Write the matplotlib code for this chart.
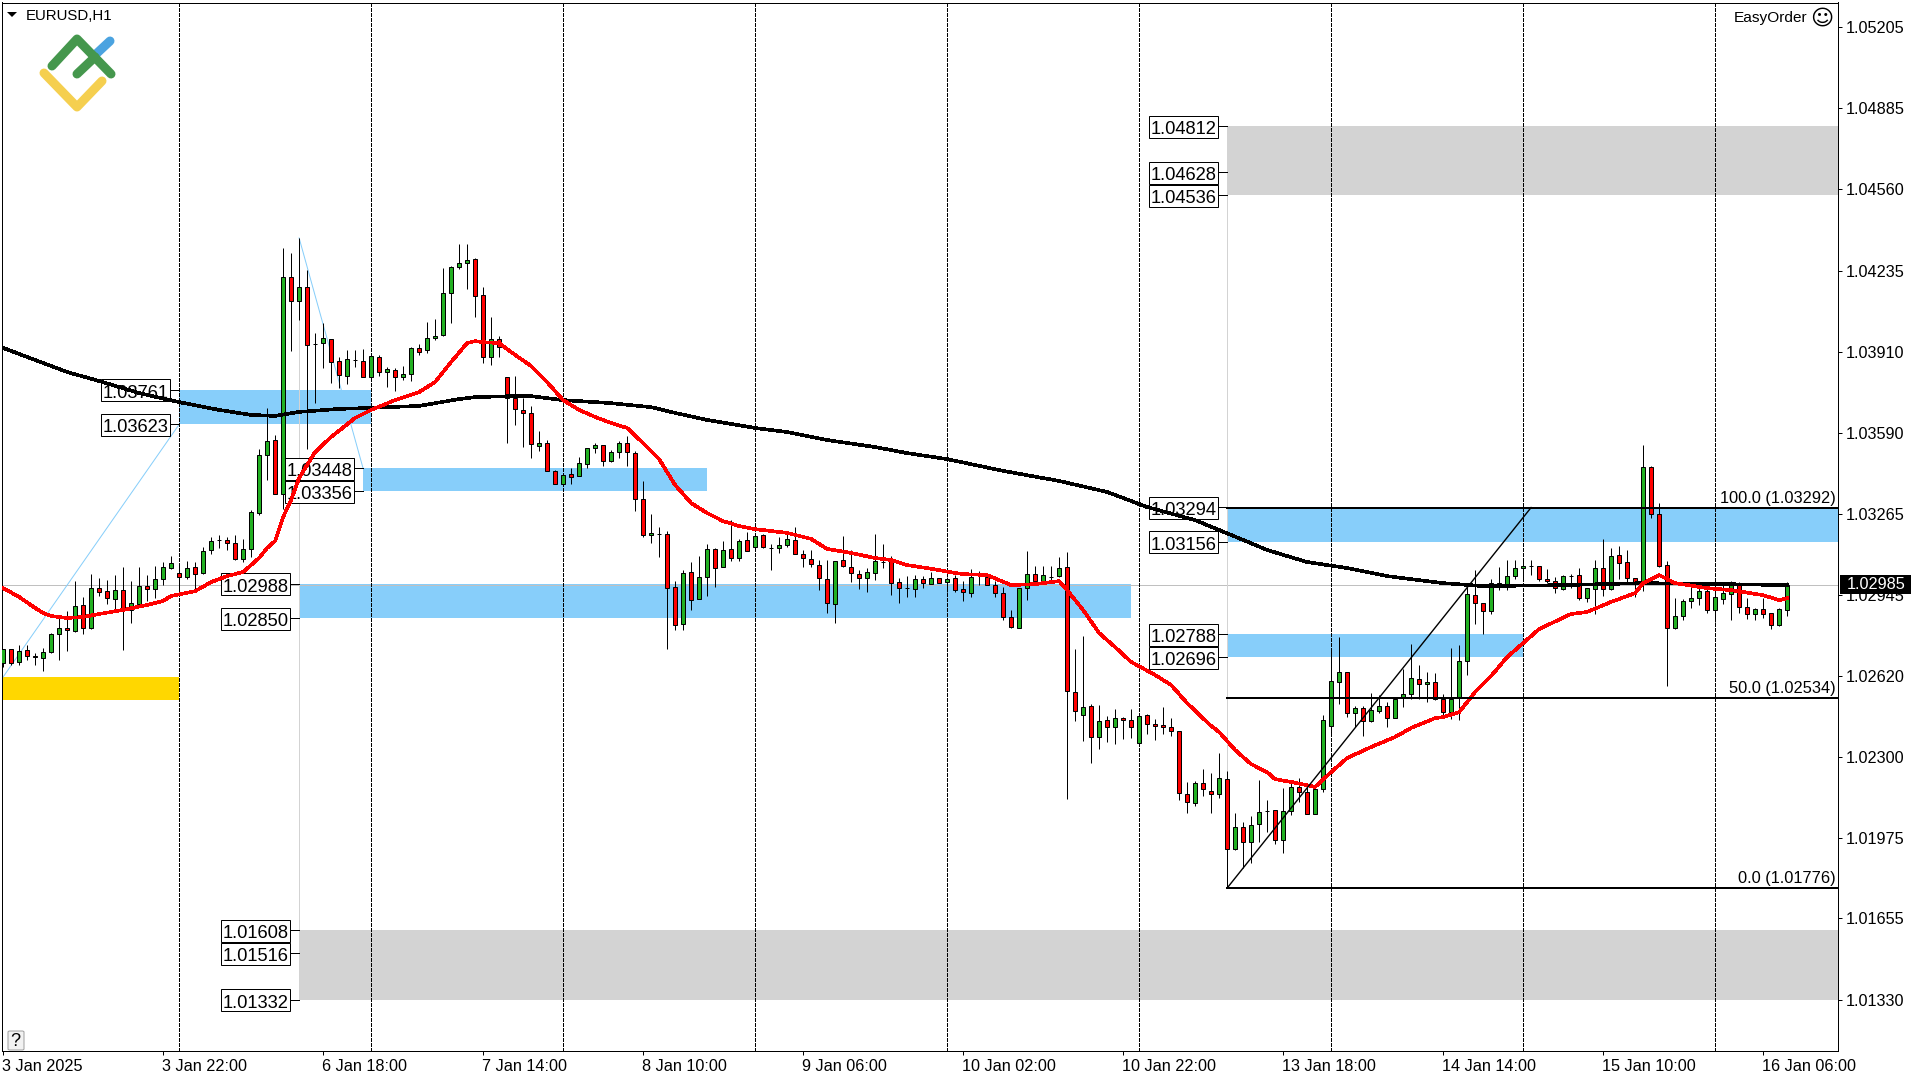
import matplotlib
matplotlib.use("Agg")
import matplotlib.pyplot as plt
import numpy as np
from matplotlib.lines import Line2D
from matplotlib.patches import Rectangle, FancyBboxPatch
from matplotlib.transforms import IdentityTransform, ScaledTranslation

plt.rcParams["font.family"] = ["Liberation Sans", "DejaVu Sans"]

# candle prices, written as points above 1.00000 (2985 -> 1.02985)
open_pts = [
    2674, 2727, 2677, 2723, 2699, 2694, 2715, 2787, 2811, 2802,
    2903, 2814, 2970, 2958, 2927, 2962, 2884, 2907, 2978, 2966,
    3006, 3050, 3030, 3014, 3054, 3030, 3122, 3162, 3162, 3150,
    3086, 3126, 3270, 3501, 3561, 3346, 4210, 4115, 4171, 3944,
    3947, 3963, 3876, 3816, 3880, 3876, 3812, 3892, 3832, 3840,
    3812, 3824, 3928, 3920, 3967, 3979, 4147, 4250, 4266, 4282,
    4139, 3892, 3963, 3812, 3728, 3681, 3669, 3537, 3549, 3438,
    3386, 3426, 3418, 3465, 3529, 3541, 3477, 3513, 3549, 3509,
    3326, 3183, 3187, 3187, 2975, 2828, 3035, 2928, 3015, 3127,
    3055, 3127, 3091, 3163, 3135, 3183, 3131, 3131, 3143, 3163,
    3107, 3087, 3063, 3007, 2908, 3083, 3055, 3027, 3011, 3031,
    3075, 3079, 2995, 2971, 2967, 3007, 2987, 3011, 2995, 3011,
    2967, 2951, 3023, 3015, 2983, 2951, 2856, 2812, 2971, 3027,
    2999, 3015, 3019, 3055, 2557, 2465, 2501, 2378, 2446, 2418,
    2453, 2446, 2354, 2465, 2430, 2426, 2418, 2402, 2151, 2115,
    2195, 2163, 2151, 2210, 1932, 2019, 1959, 2031, 2083, 2087,
    1967, 2083, 2179, 2159, 2071, 2171, 2422, 2597, 2637, 2473,
    2493, 2442, 2481, 2501, 2453, 2533, 2549, 2609, 2589, 2597,
    2529, 2477, 2533, 2681, 2943, 2912, 2880, 2991, 2987, 3019,
    3051, 3059, 3059, 3007, 2999, 2967, 3019, 3023, 2932, 2967,
    3051, 2967, 3103, 3075, 3011, 2991, 3453, 3266, 3063, 2812,
    2860, 2920, 2932, 2959, 2884, 2928, 2947, 2991, 2896, 2868,
    2888, 2872, 2824, 2884,
]
high_pts = [
    2727, 2727, 2743, 2746, 2714, 2731, 2791, 2850, 2880, 2998,
    2935, 3026, 3010, 3002, 3022, 3054, 2998, 3054, 3022, 3058,
    3074, 3098, 3066, 3078, 3074, 3134, 3174, 3182, 3174, 3182,
    3166, 3281, 3525, 3689, 3581, 4326, 4306, 4366, 4238, 3987,
    4027, 3963, 3892, 3920, 3920, 3924, 3908, 3900, 3852, 3848,
    3856, 3932, 3944, 4031, 4043, 4246, 4254, 4342, 4342, 4286,
    4171, 4051, 3975, 3812, 3816, 3728, 3697, 3597, 3561, 3442,
    3422, 3450, 3493, 3529, 3549, 3541, 3521, 3557, 3577, 3517,
    3398, 3266, 3214, 3199, 2999, 3043, 3075, 3099, 3147, 3131,
    3159, 3242, 3167, 3195, 3183, 3187, 3147, 3175, 3199, 3214,
    3123, 3123, 3083, 3083, 3079, 3179, 3123, 3043, 3051, 3187,
    3147, 3099, 3011, 3019, 3023, 3019, 3035, 3011, 3015, 3023,
    2999, 3047, 3039, 3031, 2999, 2975, 2884, 2971, 3119, 3059,
    3059, 3059, 3095, 3115, 2728, 2780, 2509, 2505, 2461, 2489,
    2457, 2489, 2461, 2469, 2450, 2497, 2453, 2402, 2199, 2203,
    2250, 2234, 2314, 2242, 2075, 2039, 2063, 2206, 2127, 2087,
    2175, 2195, 2214, 2195, 2171, 2465, 2732, 2776, 2637, 2501,
    2501, 2553, 2545, 2517, 2529, 2649, 2748, 2665, 2637, 2633,
    2549, 2732, 2744, 2991, 3043, 2912, 3007, 3055, 3083, 3083,
    3083, 3083, 3059, 3047, 3015, 3023, 3027, 3051, 2971, 3083,
    3167, 3131, 3139, 3123, 3011, 3541, 3457, 3310, 3079, 2932,
    2928, 2983, 2971, 2967, 2983, 2983, 2999, 2995, 2932, 2892,
    2932, 2872, 2892, 2995,
]
low_pts = [
    2658, 2664, 2666, 2685, 2666, 2642, 2714, 2685, 2721, 2798,
    2788, 2810, 2941, 2908, 2884, 2725, 2832, 2899, 2920, 2932,
    2985, 3046, 2943, 3009, 2954, 3026, 3106, 3130, 3122, 3082,
    3074, 3094, 3262, 3402, 3346, 3286, 3916, 4039, 3525, 3708,
    3848, 3788, 3768, 3784, 3852, 3812, 3812, 3816, 3772, 3756,
    3800, 3796, 3900, 3908, 3959, 3975, 4027, 4242, 4163, 4051,
    3868, 3860, 3892, 3549, 3621, 3533, 3489, 3517, 3438, 3386,
    3386, 3386, 3418, 3449, 3509, 3457, 3473, 3489, 3457, 3278,
    3175, 3151, 3095, 2728, 2804, 2804, 2884, 2928, 2940, 2975,
    3055, 3079, 3079, 3119, 3119, 3131, 3043, 3111, 3135, 3107,
    3055, 3055, 2963, 2872, 2832, 3055, 2995, 2967, 2956, 3003,
    3051, 2944, 2912, 2936, 2936, 2971, 2987, 2991, 2956, 2956,
    2920, 2936, 2983, 2983, 2936, 2844, 2812, 2812, 2924, 2995,
    2995, 2991, 3015, 2131, 2442, 2362, 2274, 2330, 2358, 2350,
    2370, 2374, 2354, 2390, 2366, 2390, 2382, 2127, 2075, 2103,
    2143, 2075, 2135, 1776, 1928, 1856, 1876, 1959, 2000, 1952,
    1916, 2067, 2119, 2071, 2071, 2159, 2382, 2509, 2457, 2418,
    2382, 2438, 2473, 2418, 2453, 2497, 2529, 2529, 2517, 2525,
    2453, 2449, 2445, 2625, 2828, 2788, 2868, 2963, 2963, 3007,
    3007, 3023, 2999, 2991, 2951, 2963, 2971, 2924, 2916, 2868,
    2940, 2963, 3007, 2991, 2936, 2960, 3250, 3055, 2581, 2808,
    2844, 2892, 2904, 2872, 2836, 2908, 2844, 2872, 2848, 2844,
    2852, 2808, 2820, 2860,
]
close_pts = [
    2727, 2672, 2719, 2702, 2698, 2715, 2787, 2811, 2803, 2899,
    2814, 2970, 2954, 2931, 2962, 2884, 2911, 2978, 2966, 3006,
    3054, 3070, 3014, 3050, 3026, 3118, 3158, 3162, 3150, 3086,
    3126, 3273, 3501, 3557, 3346, 4210, 4115, 4171, 3940, 3943,
    3967, 3872, 3820, 3884, 3880, 3812, 3896, 3832, 3844, 3812,
    3824, 3928, 3912, 3967, 3975, 4147, 4250, 4266, 4278, 4135,
    3892, 3963, 3931, 3728, 3685, 3669, 3545, 3549, 3438, 3386,
    3422, 3414, 3469, 3529, 3541, 3477, 3513, 3549, 3513, 3326,
    3183, 3191, 3187, 2971, 2824, 3031, 2924, 3015, 3127, 3051,
    3123, 3091, 3159, 3119, 3179, 3135, 3131, 3143, 3167, 3107,
    3091, 3067, 3011, 2912, 3079, 3059, 3031, 3011, 3035, 3079,
    3075, 2991, 2971, 2971, 3007, 2991, 3011, 2991, 3007, 2963,
    2956, 3015, 3023, 2983, 2951, 2856, 2816, 2971, 3027, 2999,
    3023, 3015, 3051, 2561, 2481, 2497, 2378, 2442, 2418, 2453,
    2446, 2418, 2461, 2430, 2422, 2418, 2402, 2155, 2119, 2195,
    2171, 2151, 2214, 1932, 2019, 1959, 2027, 2079, 2083, 1967,
    2083, 2179, 2159, 2071, 2171, 2446, 2601, 2637, 2473, 2493,
    2442, 2485, 2501, 2453, 2529, 2549, 2613, 2589, 2597, 2529,
    2477, 2529, 2681, 2947, 2912, 2880, 2991, 2983, 3019, 3051,
    3059, 3059, 3007, 2999, 2971, 3019, 3019, 2932, 2971, 3051,
    2967, 3099, 3071, 3011, 2991, 3453, 3266, 3059, 2812, 2860,
    2920, 2932, 2959, 2884, 2936, 2951, 2991, 2896, 2868, 2888,
    2868, 2824, 2888, 2985,
]

# moving averages, read at the bars listed
ma_fast_bars = [
    0, 2, 4, 5, 6, 8, 10, 12, 15, 18, 20, 21, 24, 26, 28, 30, 32, 33, 34, 35,
    36, 37, 39, 41, 44, 46, 49, 52, 54, 56, 58, 59, 60, 62, 64, 66, 68, 70, 72,
    74, 76, 78, 80, 82, 84, 86, 88, 90, 92, 94, 98, 101, 103, 106, 109, 111,
    113, 117, 119, 120, 123, 126, 129, 132, 133, 135, 137, 139, 141, 144, 146,
    148, 151, 152, 154, 156, 158, 159, 161, 164, 166, 168, 171, 174, 176, 179,
    180, 182, 184, 186, 188, 190, 192, 196, 198, 201, 204, 205, 207, 209, 213,
    216, 220, 222, 223,
]
ma_fast_pts = [
    2971, 2936, 2892, 2872, 2860, 2852, 2856, 2868, 2884, 2904, 2920, 2940,
    2959, 2995, 3019, 3035, 3091, 3131, 3159, 3254,
    3322, 3410, 3513, 3573, 3649, 3681, 3720, 3752, 3792, 3872, 3947, 3955,
    3951, 3947, 3900, 3856, 3792, 3720, 3681,
    3653, 3629, 3609, 3549, 3485, 3382, 3310, 3270, 3238, 3218, 3206, 3191,
    3167, 3127, 3111, 3091, 3083,
    3063, 3043, 3031, 3027, 3023, 2983, 2987, 2999, 2963, 2884, 2792, 2736,
    2677, 2625, 2585,
    2513, 2422, 2398, 2326, 2270, 2238, 2210, 2199, 2179, 2238, 2294, 2338,
    2378, 2414, 2453,
    2457, 2477, 2557, 2621, 2696, 2752, 2808, 2868, 2876, 2916, 2951, 2991,
    3023, 2991, 2971,
    2963, 2943, 2923, 2931,
]
ma_slow_bars = [
    0, 4, 8, 12, 17, 22, 27, 31, 34, 37, 42, 46, 52, 57, 59, 64, 66, 70, 76, 81,
    84, 88, 94, 98, 103, 109, 113, 118, 125, 132, 138, 143, 149, 155, 158, 163,
    168, 173, 179, 180, 185, 195, 205, 215, 223,
]
ma_slow_pts = [
    3928, 3880, 3832, 3796, 3748, 3712, 3681, 3661, 3657, 3673, 3685, 3689,
    3697, 3724, 3732, 3736, 3736, 3720, 3708, 3692,
    3669, 3641, 3609, 3593, 3561, 3533, 3509, 3485, 3438, 3398, 3354, 3294,
    3242, 3163, 3123, 3075,
    3051, 3019, 2995, 2991, 2979, 2983, 2991, 2987, 2983,
]

# supply / demand zones: first bar, last bar, lower price, upper price
blue_start = [22, 45, 37, 153, 153]
blue_end = [46, 88, 141, 230, 190]
blue_low = [1.03623, 1.03356, 1.02850, 1.03156, 1.02696]
blue_high = [1.03761, 1.03448, 1.02988, 1.03294, 1.02788]
gray_start = [153, 37]
gray_end = [230, 230]
gray_low = [1.04536, 1.01332]
gray_high = [1.04812, 1.01608]
gold_end = 22
gold_low = 1.02525
gold_high = 1.02617

# boxed price labels and the bar each one points at
label_prices = [1.03761, 1.03623, 1.03448, 1.03356, 1.02988, 1.02850, 1.01608,
                1.01516, 1.01332, 1.04812, 1.04628, 1.04536, 1.03294, 1.03156,
                1.02788, 1.02696]
label_bars = [22, 22, 45, 45, 37, 37, 37, 37, 37, 153, 153, 153, 153, 153, 153, 153]

fib_levels = [1.03292, 1.02534, 1.01776]
fib_names = ["100.0 (1.03292)", "50.0 (1.02534)", "0.0 (1.01776)"]
fib_start = 153
fib_diag_end = 191

session_bars = [22, 46, 70, 94, 118, 142, 166, 190, 214]
time_bars = [0, 20, 40, 60, 80, 100, 120, 140, 160, 180, 200, 220]
time_labels = ["3 Jan 2025", "3 Jan 22:00", "6 Jan 18:00", "7 Jan 14:00",
               "8 Jan 10:00", "9 Jan 06:00", "10 Jan 02:00", "10 Jan 22:00",
               "13 Jan 18:00", "14 Jan 14:00", "15 Jan 10:00", "16 Jan 06:00"]
price_ticks = [1.05205, 1.04885, 1.04560, 1.04235, 1.03910, 1.03590, 1.03265,
               1.02945, 1.02620, 1.02300, 1.01975, 1.01655, 1.01330]
last_price = 1.02985

GREEN = "#22B022"
RED = "#FF0000"
BLUE = "#87CEFA"
GRAY = "#D3D3D3"
GOLD = "#FFD700"
PX = 0.72  # one pixel in points at dpi 100


def price(points):
    return 1 + np.asarray(points) / 100000


fig = plt.figure(figsize=(19.2, 10.8), dpi=100, facecolor="white")
ax = fig.add_axes([2 / 1920, 1 - 1051 / 1080, 1836 / 1920, 1048.5 / 1080])
ax.set_xlim(-0.1375, 229.3625)
ax.set_ylim(1.01127, 1.05304)

for s in ax.spines.values():
    s.set_linewidth(PX)

# zones
for a, b, lo, hi in zip(blue_start, blue_end, blue_low, blue_high):
    ax.fill_between([a, b], lo, hi, color=BLUE, lw=0, zorder=1)
for a, b, lo, hi in zip(gray_start, gray_end, gray_low, gray_high):
    ax.fill_between([a, b], lo, hi, color=GRAY, lw=0, zorder=1)
ax.fill_between([-1, gold_end], gold_low, gold_high, color=GOLD, lw=0, zorder=1)

# bid line, period separators, zone guides
ax.axhline(last_price, color="#C0C0C0", lw=PX, zorder=1.5)
for b in session_bars:
    ax.axvline(b, color="black", lw=PX, ls=(0, (3, 2)), zorder=2, antialiased=False)
ax.plot([37, 37], [1.01332, price(4366)], color=GRAY, lw=PX, zorder=1.6)
ax.plot([153, 153], [1.01776, 1.04812], color=GRAY, lw=PX, zorder=1.6)
ax.plot([0, 22], [gold_high, 1.03623], color=BLUE, lw=PX, zorder=1.6)
ax.plot([37, 45], [price(4366), 1.03448], color=BLUE, lw=PX, zorder=1.6)

# boxed labels, sized in pixels like the terminal draws them
pixels = IdentityTransform()
for p, b in zip(label_prices, label_bars):
    x0, y0 = ax.transData.transform((b, p))
    ax.plot([x0 - 9, x0], [y0, y0], color="black", lw=PX, transform=pixels, zorder=3)
    ax.add_patch(Rectangle((x0 - 78, y0 - 11.5), 69, 22, transform=pixels, fc="white",
                           ec="black", lw=PX, zorder=3, clip_on=False))
    ax.text(x0 - 43.5, y0 - 8, f"{p:.5f}", transform=pixels, ha="center", va="baseline",
            fontsize=13.2, zorder=3)

# candles
bars = np.arange(len(open_pts))
opens, highs, lows, closes = map(price, (open_pts, high_pts, low_pts, close_pts))
colors = [GREEN if c > o else RED if c < o else "black" for o, c in zip(opens, closes)]
ax.vlines(bars, lows, highs, color="black", lw=PX, zorder=4)
ax.bar(bars, closes - opens, bottom=opens, width=0.5, color=colors,
       edgecolor="black", linewidth=PX, zorder=5)

# moving averages and fibonacci grid
ax.plot(ma_slow_bars, price(ma_slow_pts), color="black", lw=2.6 * PX, zorder=6, antialiased=False)
ax.plot(ma_fast_bars, price(ma_fast_pts), color=RED, lw=2.6 * PX, zorder=7, antialiased=False)
for level, name in zip(fib_levels, fib_names):
    ax.plot([fib_start, 230], [level, level], color="black", lw=2 * PX, zorder=8)
    ax.annotate(name, xy=(1, level), xycoords=("axes fraction", "data"),
                xytext=(-1.5, 1.3), textcoords="offset points", ha="right", va="bottom",
                fontsize=11.8, zorder=9)
ax.plot([fib_start, fib_diag_end], [fib_levels[2], fib_levels[0]], color="black",
        lw=1.4 * PX, zorder=8)

# axes
ax.yaxis.tick_right()
ax.set_yticks(price_ticks)
ax.set_yticklabels([f"{t:.5f}" for t in price_ticks])
ax.tick_params(axis="y", length=4 * PX, width=PX, pad=3, labelsize=11.7)
ax.set_xticks(time_bars)
ax.set_xticklabels(time_labels, ha="left")
ax.tick_params(axis="x", length=4 * PX, width=PX, pad=3, labelsize=11.7)
shift = ScaledTranslation(-1.5 / 100, 0, fig.dpi_scale_trans)
for lab in ax.get_xticklabels():
    lab.set_transform(lab.get_transform() + shift)

# last price tag
tag_trans = ax.get_yaxis_transform()
ax.add_patch(Rectangle((1.001, last_price - 0.00038), 0.0387, 0.00076, transform=tag_trans,
                       fc="black", ec="none", clip_on=False, zorder=10))
ax.text(1.0049, last_price, f"{last_price:.5f}", transform=tag_trans, color="white",
        ha="left", va="center", fontsize=11.7, zorder=11)

# header texts
fig.text(26 / 1920, 1 - 16.5 / 1080, "EURUSD,H1", fontsize=10.8, ha="left", va="center")
fig.add_artist(plt.Polygon([[7 / 1920, 1 - 12 / 1080], [17 / 1920, 1 - 12 / 1080],
                            [12 / 1920, 1 - 17 / 1080]], closed=True, fc="black", ec="none",
                           transform=fig.transFigure))
fig.text(1807 / 1920, 1 - 18 / 1080, "EasyOrder", fontsize=11.1, ha="right", va="center")
fig.text(1822 / 1920, 1 - 19 / 1080, "\u263a", fontsize=16, ha="center", va="center",
         family="DejaVu Sans")

# help button
fig.add_artist(FancyBboxPatch((8 / 1920, 1 - 1050 / 1080), 16 / 1920, 19 / 1080,
                              boxstyle="round,pad=0,rounding_size=0.001",
                              transform=fig.transFigure, fc="#F2F2F2", ec="#A0A0A0", lw=PX))
fig.text(15.5 / 1920, 1 - 1041 / 1080, "?", fontsize=13, ha="center", va="center")

# logo
logo_green = [[(52, 66), (77, 39), (111, 74)], [(77, 74), (95, 57)]]
logo_blue = [(95, 55), (110, 41)]
logo_yellow = [(44, 73), (77, 107), (102, 81)]
for pts, col in [(logo_blue, "#4BA3E0"), (logo_green[0], "#45974D"),
                 (logo_green[1], "#45974D"), (logo_yellow, "#F5CF4F")]:
    xs = [p[0] / 1920 for p in pts]
    ys = [1 - p[1] / 1080 for p in pts]
    fig.add_artist(Line2D(xs, ys, transform=fig.transFigure, color=col, lw=9 * PX,
                          solid_capstyle="round", solid_joinstyle="round"))

fig.savefig("out.png", dpi=100)
